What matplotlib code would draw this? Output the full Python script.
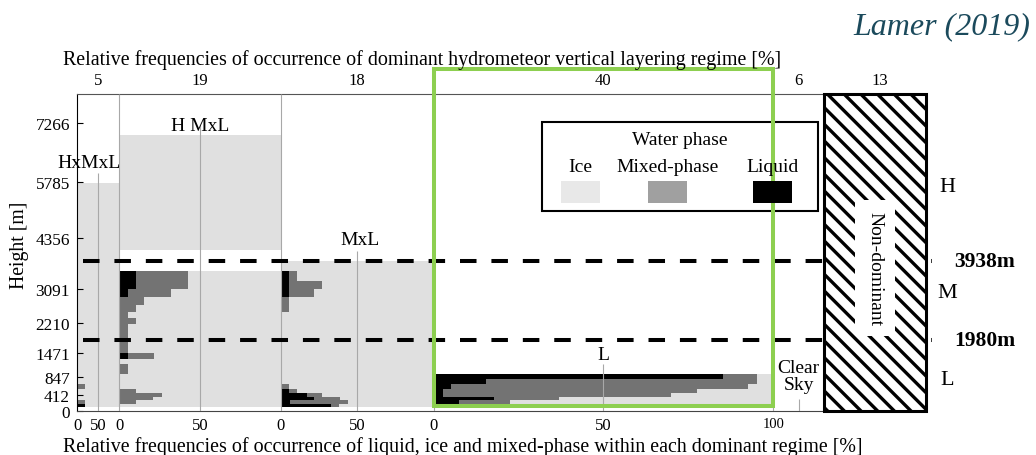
import numpy as np
import matplotlib.pyplot as plt
from matplotlib.patches import Rectangle

plt.rcParams['font.family'] = 'Liberation Serif'
plt.rcParams['hatch.linewidth'] = 2.4

# --- values ---
regimes = ['HxMxL', 'H MxL', 'MxL', 'L', 'Clear\nSky', 'Non-dominant']
regime_freq = [5, 19, 18, 40, 6, 13]

# height bins [m] shared by all regimes
bin_edges = [100, 170, 270, 360, 460, 560, 690, 820, 940, 1190, 1320, 1470, 1620,
             1800, 2000, 2200, 2350, 2500, 2680, 2870, 3080, 3290, 3540, 3780,
             4070, 5760, 6965]

N = None  # no hydrometeor in this bin
# liquid / mixed-phase shares [%] per bin (ice is the rest)
liq_hxmxl = [18, 0, 0, 0, 0, 0, 0, 0, 0, 0, 0, 0, 0, 0, 0, 0, 0, 0, 0, 0, 0, 0, 0, 0, 0, N]
mix_hxmxl = [0, 18, 0, 0, 0, 18, 0, 0, 0, 0, 0, 0, 0, 0, 0, 0, 0, 0, 0, 0, 0, 0, 0, 0, 0, N]
liq_hmxl = [0, 0, 0, 0, 0, 0, 0, 0, 0, 0, 5.2, 0, 0, 0, 0, 0, 0, 0, 0, 5.2, 10.4, 10.4, N, N, 0, 0]
mix_hmxl = [0, 10.4, 20.8, 26.5, 10.4, 0, 0, 0, 5.2, 0, 16, 5.2, 5.2, 5.2, 5.2, 10.4, 5.2,
            10.4, 15.4, 26.5, 32.1, 32.1, N, N, 0, 0]
liq_mxl = [33, 6, 22, 17, 5.6, 0, 0, 0, 0, 0, 0, 0, 0, 0, 0, 0, 0, 0, 0, 5.6, 5.6, 5.6, 0, N, N, N]
mix_mxl = [5, 38, 16.5, 10, 5.2, 5.6, 0, 0, 0, 0, 0, 0, 0, 0, 0, 0, 0, 5.6, 5.6, 16.2, 21.7,
           5.2, 0, N, N, N]
liq_l = [2.5, 7.5, 17.7, 2.7, 2.7, 5, 15.3, 85.2, N, N, N, N, N, N, N, N, N, N, N, N, N, N, N, N, N, N]
mix_l = [5, 15.1, 19.3, 67.3, 74.8, 87.7, 79.9, 10, N, N, N, N, N, N, N, N, N, N, N, N, N, N, N, N, N, N]

ytick_vals = [0, 412, 847, 1471, 2210, 3091, 4356, 5785, 7266]
boundary_heights = [3790, 1800]
boundary_labels = ['3938m', '1980m']
layer_names = ['H', 'M', 'L']
layer_label_heights = [5660, 2980, 800]

phase_names = ['Ice', 'Mixed-phase', 'Liquid']
bar_colors = ['#e0e0e0', '#737373', 'black']
legend_colors = ['#e8e8e8', '#a0a0a0', 'black']

# --- figure ---
fig = plt.figure(figsize=(10.36, 4.56), dpi=100)
ax = fig.add_axes([77 / 1036, 1 - 412 / 456, 849 / 1036, 317 / 456])
ax.set_xlim(0, 100)
ax.set_ylim(0, 8000)

starts = np.cumsum([0] + regime_freq[:-1])
centers = starts + np.array(regime_freq) / 2
edges = np.array(bin_edges, dtype=float)
bottoms = edges[:-1]
heights = np.diff(edges)

liq_all = [liq_hxmxl, liq_hmxl, liq_mxl, liq_l]
mix_all = [mix_hxmxl, mix_hmxl, mix_mxl, mix_l]

for start, w, liq, mix in zip(starts[:4], regime_freq[:4], liq_all, mix_all):
    liq = np.array(liq, dtype=float)
    mix = np.array(mix, dtype=float)
    ok = ~np.isnan(liq)
    s = w / 100
    ice = 100 - liq - mix
    ax.barh(bottoms[ok], liq[ok] * s, height=heights[ok], left=start, align='edge',
            color=bar_colors[2], linewidth=0, antialiased=False, zorder=2)
    ax.barh(bottoms[ok], mix[ok] * s, height=heights[ok], left=start + liq[ok] * s,
            align='edge', color=bar_colors[1], linewidth=0, antialiased=False, zorder=2)
    ax.barh(bottoms[ok], ice[ok] * s, height=heights[ok],
            left=start + (liq[ok] + mix[ok]) * s, align='edge', color=bar_colors[0],
            linewidth=0, antialiased=False, zorder=1)
    # thin 50 % line
    top = bottoms[ok].max() + heights[ok][-1] + 250
    ax.vlines(start + w / 2, 0, top, color='#a8a8a8', lw=0.8, zorder=3)

# panel separators
ax.vlines(starts[1:5], 0, 8000, color='#a8a8a8', lw=0.8, zorder=3)
ax.vlines(centers[4], 0, 300, color='#a8a8a8', lw=0.8, zorder=3)

# spines
ax.spines['right'].set_visible(False)
ax.spines['top'].set_bounds(0, starts[5])
ax.spines['bottom'].set_bounds(0, starts[5])
ax.spines['top'].set_color('#555555')
ax.spines['bottom'].set_color('#444444')

# regime name labels
label_xy = [(1.4, 6280), (14.5, 7215), (33.3, 4320), (62, 1420), (85, 880)]
for name, (x, y) in zip(regimes[:5], label_xy):
    ax.text(x, y, name, ha='center', va='center', fontsize=14, linespacing=1.0, zorder=4)

# regime frequencies on top
for c, f in zip(centers, regime_freq):
    ax.text(c, 1.044, str(f), transform=ax.get_xaxis_transform(), ha='center',
            va='center', fontsize=12)

# non-dominant hatched box
nd_w = min(regime_freq[5], 100 - starts[5])
ax.add_patch(Rectangle((starts[5], 0), nd_w, 8000, facecolor='white', edgecolor='black',
                       hatch='\\\\', lw=2.2, zorder=6, clip_on=False))
ax.text(starts[5] + nd_w / 2, 3615, regimes[5], rotation=270, ha='center', va='center',
        fontsize=14, zorder=7, bbox=dict(facecolor='white', edgecolor='none', pad=8))

# layer boundaries
for h, lab in zip(boundary_heights, boundary_labels):
    ax.plot([0.7, 100.7], [h, h], color='black', lw=2.9, ls=(0, (4.1, 3.7)),
            clip_on=False, zorder=5)
    ax.text(106.9, h, lab, ha='center', va='center', fontsize=15.5, fontweight='bold')
for name, h in zip(layer_names, layer_label_heights):
    ax.text(102.5, h, name, ha='center', va='center', fontsize=16)

# green highlight around the L regime
ax.add_patch(Rectangle((starts[3], 120), regime_freq[3], 8515, fill=False,
                       edgecolor='#8dcf50', lw=2.9, zorder=8, clip_on=False))

# axes ticks
xt = [0, 2.5, 5, 14.5, 24, 33, 42, 62, 82]
xl = ['0', '50', '0', '50', '0', '50', '0', '50', '100']
ax.set_xticks(xt)
ax.set_xticklabels(xl)
ax.tick_params(axis='x', length=0, pad=4, labelsize=12)
ax.get_xticklabels()[-1].set_fontsize(10.5)
ax.set_yticks(ytick_vals)
ax.tick_params(axis='y', direction='in', length=4, pad=5, labelsize=12.4)

# legend drawn by hand
ax.add_patch(Rectangle((0.548, 0.631), 0.325, 0.281, transform=ax.transAxes,
                       facecolor='white', edgecolor='black', lw=1.5, zorder=7))
ax.text(0.710, 0.858, 'Water phase', transform=ax.transAxes, ha='center', va='center',
        fontsize=14, zorder=8)
leg_x = [0.593, 0.695, 0.819]
for x, name, col in zip(leg_x, phase_names, legend_colors):
    ax.text(x, 0.772, name, transform=ax.transAxes, ha='center', va='center',
            fontsize=14, zorder=8)
    ax.add_patch(Rectangle((x - 0.023, 0.656), 0.046, 0.068, transform=ax.transAxes,
                           facecolor=col, edgecolor='none', zorder=8))

fig.text(63 / 1036, 1 - 65 / 456,
         'Relative frequencies of occurrence of dominant hydrometeor vertical layering regime [%]',
         ha='left', va='baseline', fontsize=14.4)
fig.text(63 / 1036, 1 - 452 / 456,
         'Relative frequencies of occurrence of liquid, ice and mixed-phase within each dominant regime [%]',
         ha='left', va='baseline', fontsize=14.4)
fig.text(20 / 1036, 1 - 245 / 456, 'Height [m]', rotation=90, ha='center', va='center',
         fontsize=14.2)
fig.text(1030 / 1036, 1 - 27 / 456, 'Lamer (2019)', ha='right', va='center',
         fontsize=23, style='italic', color='#1b4a5c')

fig.savefig('out.png', dpi=100)
